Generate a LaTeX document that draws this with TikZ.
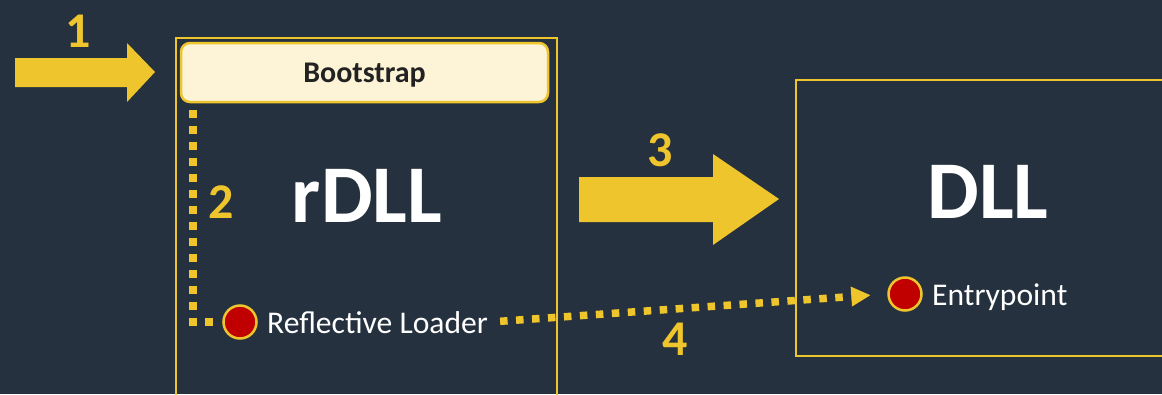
\documentclass[tikz,border=0pt]{standalone}
\usepackage{fontspec}
\setmainfont{Carlito}
\usepackage{tikz}
\usetikzlibrary{positioning,arrows.meta}
\definecolor{slate}{HTML}{25313E}
\definecolor{gold}{HTML}{EEC52C}
\definecolor{cream}{HTML}{FDF3D6}
\definecolor{ink}{HTML}{222222}
\definecolor{dotred}{HTML}{C00000}
\tikzset{
    framebox/.style={
        draw=gold, line width=2pt, inner sep=0pt, anchor=north west
    },
    bootbox/.style={
        draw=gold, fill=cream, line width=2.5pt, rounded corners=9pt,
        minimum width=367pt, minimum height=59pt,
        font=\fontsize{30}{36}\selectfont\bfseries, text=ink,
        text height=19.3pt, text depth=0pt
    },
    bigtitle/.style={
        text=white, font=\fontsize{82}{98}\selectfont\bfseries,
        inner sep=0pt, anchor=base
    },
    steplabel/.style={
        text=gold, font=\fontsize{50}{60}\selectfont\bfseries,
        inner sep=0pt, anchor=base
    },
    marker/.style={
        circle, draw=gold, fill=dotred, line width=2.5pt,
        minimum size=33pt, inner sep=0pt
    },
    caption/.style={
        text=white, font=\fontsize{31.6}{38}\selectfont,
        inner sep=0pt, anchor=base west
    },
    blockarrow/.style={fill=gold},
    dotline/.style={draw=gold, line width=7.5pt, dash pattern=on 7.5pt off 8.5pt},
    arrow/.style={dotline, -{Triangle[length=19pt,width=20pt,line width=0pt]}},
}

\begin{document}
\begin{tikzpicture}[x=1pt, y=-1pt]
    \useasboundingbox (0,0) rectangle (1162,394);
    \fill[slate] (0,0) rectangle (1162,394);
    \clip (0,0) rectangle (1162,394);

    % boxes
    \node[framebox, minimum width=381pt, minimum height=400pt] (rdll) at (175,37) {};
    \node[framebox, minimum width=400pt, minimum height=276pt] (dll) at (795,79) {};
    \node[bootbox] (boot) at (364.5,72.5) {Bootstrap};
    \node[bigtitle] (rdlltitle) at (367,222) {rDLL};
    \node[bigtitle] (dlltitle) at (988,218) {DLL};

    % markers
    \node[marker] (rl) at (240,322) {};
    \node[marker] (ep) at (905,294) {};
    \node[caption] (rltext) at (267,333) {Reflective Loader};
    \node[caption] (eptext) at (932,305) {Entrypoint};

    % big arrows
    \fill[blockarrow] (15,58) -- (127,58) -- (127,43) -- (155,72) -- (127,102) -- (127,87) -- (15,87) -- cycle;
    \fill[blockarrow] (579,177) -- (713,177) -- (713,154) -- (779,199) -- (713,245) -- (713,222) -- (579,222) -- cycle;

    % dotted links
    \coordinate (d2) at (193,110);
    \draw[dotline, shorten >=9pt] (d2) |- (rl.west);
    \draw[arrow, shorten <=12pt, shorten >=17pt] (rltext.east) -- (ep.west);

    % step numbers
    \node[steplabel] (n1) at (78,47) {1};
    \node[steplabel] (n2) at (221,218) {2};
    \node[steplabel] (n3) at (660,166) {3};
    \node[steplabel] (n4) at (675,355) {4};
\end{tikzpicture}
\end{document}
